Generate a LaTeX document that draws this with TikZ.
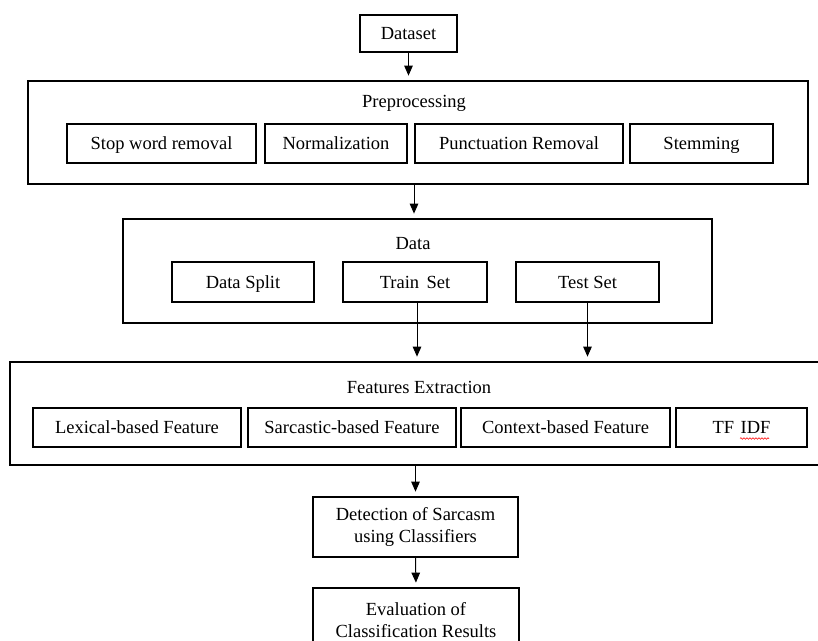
\documentclass[tikz,border=0pt]{standalone}
\usepackage{fontspec}
\setmainfont{Liberation Serif}
\usetikzlibrary{arrows.meta,decorations.pathmorphing}
\tikzset{
  box/.style={draw=black, line width=1.7pt, inner sep=0pt, align=center,
    font=\fontsize{18.5}{22}\selectfont},
  onebox/.style={box, text height=16pt, text depth=4pt},
  lbl/.style={inner sep=0pt, text height=16pt, text depth=4pt, font=\fontsize{18.5}{22}\selectfont},
  conn/.style={line width=1pt, -{Triangle[length=10pt,width=8.5pt]}, shorten >=4.5pt}
}
\begin{document}
\begin{tikzpicture}[x=1pt,y=-1pt]
\useasboundingbox (0,0) rectangle (818,640);
\clip (0,0) rectangle (818,640);
\fill[white] (0,0) rectangle (818,640);
% Dataset
\node[onebox, minimum width=97pt, minimum height=37pt] (dataset) at (408.5,33.5) {Dataset};
% Preprocessing
\node[box, minimum width=780pt, minimum height=103pt] (pre) at (418,132.5) {};
\node[lbl] (prelbl) at (414,101.7) {Preprocessing};
\node[onebox, minimum width=189pt, minimum height=39pt] (stop) at (161.5,143.5) {Stop word removal};
\node[onebox, minimum width=142pt, minimum height=39pt] (norm) at (336,143.5) {Normalization};
\node[onebox, minimum width=208pt, minimum height=39pt] (punct) at (519,143.5) {Punctuation Removal};
\node[onebox, minimum width=143pt, minimum height=39pt] (stem) at (701.5,143.5) {Stemming};
% Data
\node[box, minimum width=589pt, minimum height=104pt] (data) at (417.5,271) {};
\node[lbl] (datalbl) at (413,243) {Data};
\node[onebox, minimum width=142pt, minimum height=40pt] (split) at (243,282) {Data Split};
\node[onebox, minimum width=144pt, minimum height=40pt] (train) at (415,282) {Train\hspace{0.15em} Set};
\node[onebox, minimum width=143pt, minimum height=40pt] (test) at (587.5,282) {Test Set};
% Features
\node[box, minimum width=820pt, minimum height=103pt] (feat) at (420,413.5) {};
\node[lbl] (featlbl) at (419,387) {Features Extraction};
\node[onebox, minimum width=208pt, minimum height=39pt] (lex) at (137,427.5) {Lexical-based Feature};
\node[onebox, minimum width=208pt, minimum height=39pt] (sarc) at (352,427.5) {Sarcastic-based Feature};
\node[onebox, minimum width=209pt, minimum height=39pt] (ctx) at (565.5,427.5) {Context-based Feature};
\node[onebox, minimum width=131pt, minimum height=39pt] (tfidf) at (741.5,427.5) {TF\hspace{0.1em} IDF};
\draw[red, line width=0.6pt, decorate, decoration={snake, segment length=3pt, amplitude=0.8pt}]
  (740,438.5) -- (769,438.5);
% Detection and evaluation
\node[box, minimum width=205pt, minimum height=60pt] (detect) at (415.5,527) {Detection of Sarcasm\\using Classifiers};
\node[box, minimum width=206pt, minimum height=64pt] (eval) at (416,620) {Evaluation of\\Classification Results};
% Connectors
\draw[conn] (dataset.south) -- (dataset.south |- pre.north);
\draw[conn] ([xshift=-4pt]pre.south) -- ([xshift=-4pt]pre.south |- data.north);
\draw[conn] ([xshift=2pt]train.south) -- ([xshift=2pt]train.south |- feat.north);
\draw[conn] (test.south) -- (test.south |- feat.north);
\draw[conn] (detect.north |- feat.south) -- (detect.north);
\draw[conn] (detect.south) -- (eval.north);
\end{tikzpicture}
\end{document}
